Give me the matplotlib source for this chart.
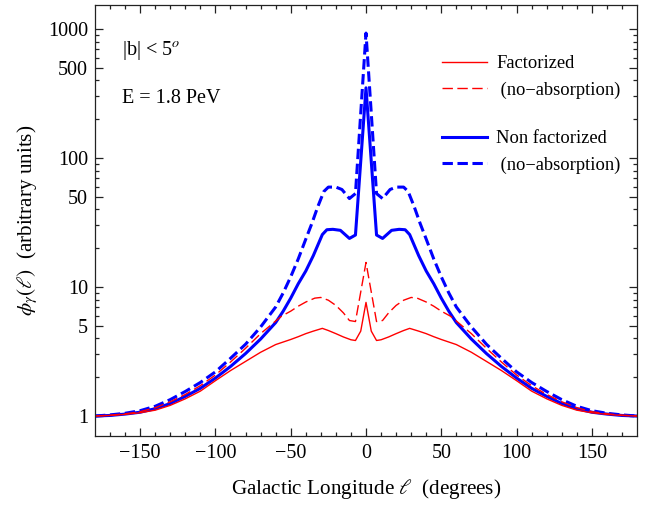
import numpy as np
import matplotlib
matplotlib.use("Agg")
import matplotlib.pyplot as plt
from matplotlib.ticker import FixedLocator, NullFormatter

# -----------------------------------
# Data (symmetric in longitude)
# -----------------------------------

# Non factorized, with absorption (thick solid blue)
lon_nf = [-180, -170, -160, -150, -140, -130, -120, -110, -100, -90, -80, -70, -60, -55,
          -50, -45, -40, -35, -29, -26, -22, -17, -11, -7, 0,
          7, 11, 17, 22, 26, 29, 35, 40, 45, 50, 55, 60, 70, 80, 90,
          100, 110, 120, 130, 140, 150, 160, 170, 180]
phi_nf = [1.0, 1.01, 1.035, 1.07, 1.14, 1.25, 1.42, 1.64, 1.97, 2.42, 3.05, 3.95, 5.3, 6.5,
          8.2, 10.6, 13.3, 17.5, 25.5, 27.8, 28.0, 27.5, 23.8, 25.3, 350,
          25.3, 23.8, 27.5, 28.0, 27.8, 25.5, 17.5, 13.3, 10.6, 8.2, 6.5, 5.3, 3.95, 3.05, 2.42,
          1.97, 1.64, 1.42, 1.25, 1.14, 1.07, 1.035, 1.01, 1.0]

# Non factorized, no absorption (thick dashed blue)
lon_nf_na = [-180, -170, -160, -150, -140, -130, -120, -110, -100, -90, -80, -70, -60, -55,
             -50, -45, -40, -36, -32, -28, -25, -20, -16, -11, -7, 0,
             7, 11, 16, 20, 25, 28, 32, 36, 40, 45, 50, 55, 60, 70, 80, 90,
             100, 110, 120, 130, 140, 150, 160, 170, 180]
phi_nf_na = [1.0, 1.02, 1.05, 1.1, 1.19, 1.34, 1.55, 1.82, 2.2, 2.8, 3.6, 4.9, 7.0, 9.0,
             12.0, 16.5, 23.5, 31.0, 42.0, 55.0, 59.5, 59.5, 57.0, 48.5, 53.0, 930,
             53.0, 48.5, 57.0, 59.5, 59.5, 55.0, 42.0, 31.0, 23.5, 16.5, 12.0, 9.0, 7.0, 4.9, 3.6, 2.8,
             2.2, 1.82, 1.55, 1.34, 1.19, 1.1, 1.05, 1.02, 1.0]

# Factorized, no absorption (thin dashed red)
lon_f_na = [-180, -170, -160, -150, -140, -130, -120, -110, -100, -90, -80, -70, -60, -56,
            -50, -45, -40, -34, -30, -25, -20, -15, -11, -7, 0,
            7, 11, 15, 20, 25, 30, 34, 40, 45, 50, 56, 60, 70, 80, 90,
            100, 110, 120, 130, 140, 150, 160, 170, 180]
phi_f_na = [1.0, 1.015, 1.04, 1.08, 1.16, 1.29, 1.47, 1.72, 2.08, 2.62, 3.35, 4.35, 5.45, 5.95,
            6.5, 7.1, 7.65, 8.2, 8.3, 7.9, 7.2, 6.3, 5.5, 5.4, 15.5,
            5.4, 5.5, 6.3, 7.2, 7.9, 8.3, 8.2, 7.65, 7.1, 6.5, 5.95, 5.45, 4.35, 3.35, 2.62,
            2.08, 1.72, 1.47, 1.29, 1.16, 1.08, 1.04, 1.015, 1.0]

# Factorized, with absorption (thin solid red)
lon_f = [-180, -170, -160, -150, -140, -130, -120, -110, -100, -90, -80, -70, -60,
         -50, -45, -40, -35, -29, -25, -20, -15, -10, -7, -3.5, 0,
         3.5, 7, 10, 15, 20, 25, 29, 35, 40, 45, 50, 60, 70, 80, 90,
         100, 110, 120, 130, 140, 150, 160, 170, 180]
phi_f = [1.0, 1.01, 1.03, 1.06, 1.11, 1.21, 1.36, 1.56, 1.88, 2.25, 2.65, 3.12, 3.58,
         3.92, 4.12, 4.35, 4.55, 4.78, 4.6, 4.35, 4.1, 3.9, 3.85, 4.55, 7.6,
         4.55, 3.85, 3.9, 4.1, 4.35, 4.6, 4.78, 4.55, 4.35, 4.12, 3.92, 3.58, 3.12, 2.65, 2.25,
         1.88, 1.56, 1.36, 1.21, 1.11, 1.06, 1.03, 1.01, 1.0]

x_ticks = [-150, -100, -50, 0, 50, 100, 150]
y_ticks = [1, 5, 10, 50, 100, 500, 1000]
y_tick_labels = ["1", "5", "10", "50", "100", "500", "1000"]

# -----------------------------------
# Style
# -----------------------------------

plt.rcParams['font.family'] = ['Liberation Serif', 'DejaVu Serif']
plt.rcParams['mathtext.fontset'] = 'stix'

fig = plt.figure(figsize=(6.54, 5.08), dpi=100)
ax = fig.add_axes([95 / 654, 72 / 508, 542 / 654, 431 / 508])

blue = "#0000ff"
red = "#ff0000"

l1, = ax.plot(lon_nf_na, phi_nf_na, color=blue, lw=2.2, dashes=(3.4, 1.5))
l2, = ax.plot(lon_nf, phi_nf, color=blue, lw=2.2)
l3, = ax.plot(lon_f_na, phi_f_na, color=red, lw=1.0, dashes=(7.5, 3.2))
l4, = ax.plot(lon_f, phi_f, color=red, lw=1.0)

ax.set_yscale("log")
ax.set_xlim(-180, 180)
ax.set_ylim(0.70, 1535)

# ticks
ax.xaxis.set_major_locator(FixedLocator(x_ticks))
ax.xaxis.set_minor_locator(FixedLocator(np.arange(-170, 180, 10)))
ax.yaxis.set_major_locator(FixedLocator(y_ticks))
ax.set_yticklabels(y_tick_labels)
minor_y = [m * d for d in [1, 10, 100, 1000] for m in range(2, 10)
           if m != 5 and m * d < 1535]
ax.yaxis.set_minor_locator(FixedLocator(minor_y))
ax.yaxis.set_minor_formatter(NullFormatter())

ax.tick_params(which="both", direction="in", top=True, right=True,
               labelsize=14.5, width=0.9, colors="#222222", labelcolor="black")
ax.tick_params(which="major", length=6)
ax.tick_params(which="minor", length=3)
ax.tick_params(axis="x", pad=6)
ax.tick_params(axis="y", pad=5)

for s in ax.spines.values():
    s.set_linewidth(0.9)
    s.set_color("#222222")

ax.set_xlabel(r"Galactic Longitude $\ell$  (degrees)", fontsize=15.2, labelpad=10)
ax.set_ylabel(r"$\phi_\gamma(\ell)$  (arbitrary units)", fontsize=15.2, labelpad=6)

# annotations
ax.text(0.05, 0.895, r"|b| < 5$^o$", transform=ax.transAxes,
        fontsize=14.5, va="center", ha="left")
ax.text(0.05, 0.782, "E = 1.8 PeV", transform=ax.transAxes,
        fontsize=14.5, va="center", ha="left")

# legends
leg_kw = dict(frameon=False, fontsize=13.3, handlelength=2.45, handletextpad=0.5,
              labelspacing=0.5, borderpad=0, borderaxespad=0, loc="upper left")
leg1 = ax.legend([l4, l3], ["Factorized", " (no\u2212absorption)"],
                 bbox_to_anchor=(0.640, 0.884), **leg_kw)
ax.add_artist(leg1)
ax.legend([l2, l1], ["Non factorized", " (no\u2212absorption)"],
          bbox_to_anchor=(0.640, 0.709), **leg_kw)

fig.savefig("out.png", dpi=100)
